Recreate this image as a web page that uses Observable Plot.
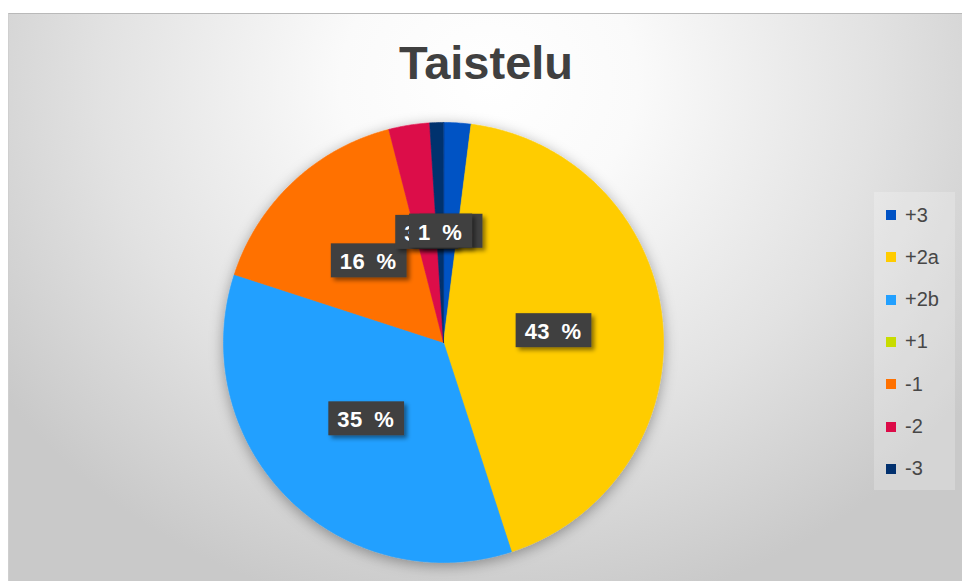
<!DOCTYPE html>
<html>
<head>
<meta charset="utf-8">
<script src="https://cdn.jsdelivr.net/npm/d3@7"></script>
<script src="https://cdn.jsdelivr.net/npm/@observablehq/plot@0.6"></script>
<style>
  html, body { margin: 0; padding: 0; background: #fff; width: 962px; height: 581px; overflow: hidden; }
  #panel {
    position: absolute; left: 8px; top: 13px; width: 960px; height: 570px;
    background: radial-gradient(ellipse 62% 95% at 50% 12%, #ffffff 0%, #fafafa 25%, #e2e2e2 65%, #c9c9c9 100%);
    border-top: 1px solid #b9b9b9; border-left: 1px solid #cfcfcf;
    font-family: "Liberation Sans", Arial, sans-serif;
  }
  #title {
    position: absolute; left: 0; width: 954px; top: 21px; text-align: center;
    font-size: 47px; font-weight: bold; color: #404040; letter-spacing: 0px;
  }
  #chart { position: absolute; left: 0; top: 0; }
  #legend {
    position: absolute; left: 865px; top: 178px; width: 81px; height: 298px;
    background: rgba(255,255,255,0.22);
  }
  .item { position: absolute; left: 0; height: 24px; display: flex; align-items: center; font-size: 20px; color: #474747; }
  .sw { width: 10px; height: 10px; margin-left: 12px; margin-right: 9px; }
</style>
</head>
<body>
<div id="panel">
  <div id="title">Taistelu</div>
  <div id="chart"></div>
  <div id="legend"></div>
</div>
<script>
const categories = ["+3", "+2a", "+2b", "+1", "-1", "-2", "-3"];
const values = [2, 43, 35, 0, 16, 3, 1];
const colors = ["#0052c4", "#ffcc00", "#22a0ff", "#c8dc00", "#ff7100", "#dc0b48", "#01306e"];
const titleText = "Taistelu";

const data = categories.map((c, i) => ({category: c, value: values[i]}));
const arcs = d3.pie().sort(null).value(d => d.value).startAngle(0).endAngle(2 * Math.PI)(data);

// polygon points for each slice (unit circle, angle clockwise from top)
const slicePts = [];
for (const a of arcs) {
  if (a.endAngle - a.startAngle <= 0) continue;
  const c = a.data.category;
  slicePts.push({category: c, x: 0, y: 0});
  const n = Math.max(2, Math.ceil((a.endAngle - a.startAngle) / 0.01));
  for (let k = 0; k <= n; k++) {
    const t = a.startAngle + (a.endAngle - a.startAngle) * k / n;
    slicePts.push({category: c, x: Math.sin(t), y: Math.cos(t)});
  }
}
const labels = arcs.filter(a => a.data.value > 0).map(a => {
  const m = (a.startAngle + a.endAngle) / 2;
  return {category: a.data.category, x: 0.5 * Math.sin(m), y: 0.5 * Math.cos(m), text: `${a.data.value} %`};
});

const plot = Plot.plot({
  width: 954, height: 568, margin: 0,
  style: {background: "transparent", overflow: "visible"},
  x: {domain: [-1, 1], range: [214, 654], axis: null},
  y: {domain: [-1, 1], range: [548, 108], axis: null},
  color: {domain: categories, range: colors},
  marks: [
    Plot.line(slicePts, {x: "x", y: "y", z: "category", fill: "category", stroke: "category", strokeWidth: 0.6, curve: "linear-closed"}),
    Plot.text(labels, {x: "x", y: "y", text: "text", fill: "white", fontSize: 22, fontWeight: "bold",
      fontFamily: "'Liberation Sans', Arial, sans-serif"})
  ]
});
document.getElementById("chart").appendChild(plot);

// filters
const ns = "http://www.w3.org/2000/svg";
const defs = document.createElementNS(ns, "defs");
defs.innerHTML = `
  <filter id="pieShadow" x="-20%" y="-20%" width="140%" height="140%">
    <feDropShadow dx="0" dy="3" stdDeviation="7" flood-color="#000" flood-opacity="0.35"/>
  </filter>
  <filter id="boxShadow" x="-30%" y="-30%" width="160%" height="170%">
    <feDropShadow dx="3" dy="3" stdDeviation="2" flood-color="#000" flood-opacity="0.45"/>
  </filter>`;
plot.insertBefore(defs, plot.firstChild);
const lineG = plot.querySelector('g[aria-label="line"]');
if (lineG) lineG.setAttribute("filter", "url(#pieShadow)");

// label boxes behind each label, stacked in data order
const texts = plot.querySelectorAll('g[aria-label="text"] text');
texts.forEach(t => {
  t.setAttribute("letter-spacing", "0.4");
  t.setAttribute("word-spacing", "5");
  const b = t.getBBox();
  const r = document.createElementNS(ns, "rect");
  r.setAttribute("x", b.x - 9);
  r.setAttribute("y", b.y - 6);
  r.setAttribute("width", b.width + 19);
  r.setAttribute("height", b.height + 9);
  r.setAttribute("fill", "#3f3f3f");
  r.setAttribute("filter", "url(#boxShadow)");
  const tr = t.getAttribute("transform");
  if (tr) r.setAttribute("transform", tr);
  t.parentNode.insertBefore(r, t);
});

// legend
const legend = document.getElementById("legend");
categories.forEach((c, i) => {
  const div = document.createElement("div");
  div.className = "item";
  div.style.top = (23 + i * 42.3 - 12) + "px";
  div.innerHTML = `<span class="sw" style="background:${colors[i]}"></span><span>${c}</span>`;
  legend.appendChild(div);
});
</script>
</body>
</html>
